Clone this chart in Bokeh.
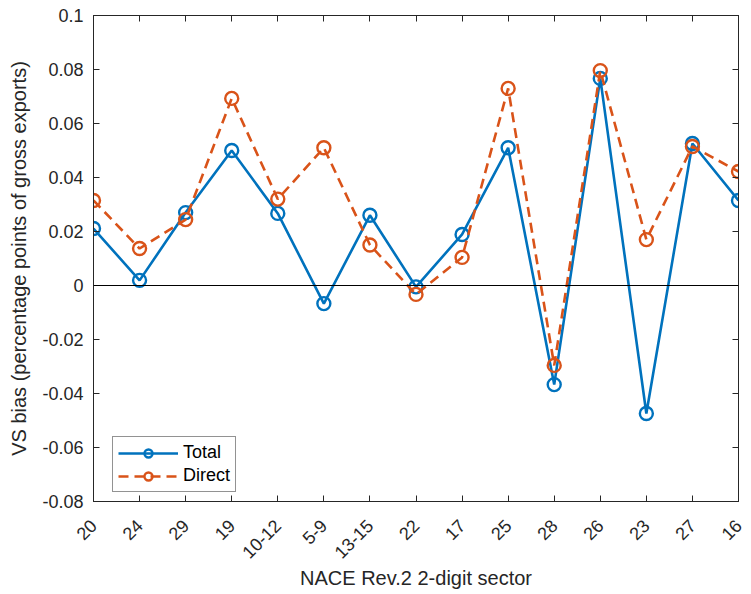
import math
from bokeh.plotting import figure
from bokeh.models import (Range1d, FixedTicker, LinearAxis, Span, Legend, LegendItem,
                          CustomJSTickFormatter, ColumnDataSource)
from bokeh.embed import file_html
from bokeh.resources import INLINE

sectors = ["20", "24", "29", "19", "10-12", "5-9", "13-15", "22", "17", "25",
           "28", "26", "23", "27", "16"]
total = [0.0211, 0.0019, 0.0270, 0.0500, 0.0267, -0.0067, 0.0260, -0.0005, 0.0189,
         0.0510, -0.0367, 0.0767, -0.0474, 0.0526, 0.0315]
direct = [0.0315, 0.0137, 0.0244, 0.0693, 0.0320, 0.0510, 0.0150, -0.0033, 0.0104,
          0.0730, -0.0296, 0.0796, 0.0170, 0.0515, 0.0422]
y_ticks = [-0.08, -0.06, -0.04, -0.02, 0.0, 0.02, 0.04, 0.06, 0.08, 0.1]
y_tick_labels = ["-0.08", "-0.06", "-0.04", "-0.02", "0", "0.02", "0.04", "0.06", "0.08", "0.1"]

BLUE = "#0072BD"
ORANGE = "#D95319"
DARK = "#262626"
FONT = "Liberation Sans"
TICK_SIZE = "18px"
LABEL_SIZE = "20px"

xs = list(range(len(sectors)))
src = ColumnDataSource(dict(x=xs, total=total, direct=direct))

p = figure(width=745, height=593, output_backend="svg", toolbar_location=None,
           x_range=Range1d(0, len(sectors) - 1), y_range=Range1d(y_ticks[0], y_ticks[-1]),
           min_border_left=93, min_border_right=7, min_border_top=15, min_border_bottom=92)
p.background_fill_color = "white"
p.border_fill_color = "white"
p.outline_line_color = DARK
p.outline_line_width = 1
p.grid.visible = False

p.add_layout(Span(location=0, dimension="width", line_color="black", line_width=1))

lt = p.line("x", "total", source=src, line_color=BLUE, line_width=2.6)
st = p.scatter("x", "total", source=src, marker="circle", size=13, line_color=BLUE,
               line_width=2.4, fill_color=None)
ld = p.line("x", "direct", source=src, line_color=ORANGE, line_width=2.6, line_dash="10 6")
sd = p.scatter("x", "direct", source=src, marker="circle", size=13, line_color=ORANGE,
               line_width=2.4, fill_color=None)

xt = FixedTicker(ticks=xs)
yt = FixedTicker(ticks=y_ticks)

def style(ax):
    ax.axis_line_color = DARK
    ax.major_tick_line_color = DARK
    ax.major_tick_in = 6
    ax.major_tick_out = 0
    ax.minor_tick_line_color = None
    ax.major_label_text_color = DARK
    ax.major_label_text_font = FONT
    ax.major_label_text_font_size = TICK_SIZE
    ax.axis_label_text_font = FONT
    ax.axis_label_text_font_size = LABEL_SIZE
    ax.axis_label_text_font_style = "normal"
    ax.axis_label_text_color = DARK

blank = CustomJSTickFormatter(code="return ''")

xa = p.xaxis[0]
style(xa)
xa.ticker = xt
xa.major_label_overrides = {i: s for i, s in zip(xs, sectors)}
xa.major_label_orientation = math.pi / 4
xa.major_label_standoff = 21
xa.axis_label = "NACE Rev.2 2-digit sector"
xa.axis_label_standoff = 0

ya = p.yaxis[0]
style(ya)
ya.ticker = yt
ya.major_label_overrides = {v: s for v, s in zip(y_ticks, y_tick_labels)}
ya.major_label_standoff = 10
ya.axis_label = "VS bias (percentage points of gross exports)"
ya.axis_label_standoff = 9

ra = LinearAxis(ticker=yt, formatter=blank)
style(ra)
ra.major_label_text_font_size = "1px"
ra.major_label_standoff = 0
p.add_layout(ra, "right")
ta = LinearAxis(ticker=xt, formatter=blank)
style(ta)
ta.major_label_text_font_size = "1px"
ta.major_label_standoff = 0
p.add_layout(ta, "above")

legend = Legend(items=[LegendItem(label="Total", renderers=[lt, st]),
                       LegendItem(label="Direct", renderers=[ld, sd])],
                location=(19, 9))
legend.border_line_color = DARK
legend.border_line_width = 1
legend.label_text_font = FONT
legend.label_text_font_size = TICK_SIZE
legend.label_text_color = "black"
legend.glyph_width = 60
legend.glyph_height = 20
legend.label_height = 20
legend.label_standoff = 5
legend.spacing = 2
legend.padding = 5
legend.margin = 0
legend.background_fill_alpha = 1
p.add_layout(legend, "center")

open("out.html", "w").write(file_html(p, INLINE))
